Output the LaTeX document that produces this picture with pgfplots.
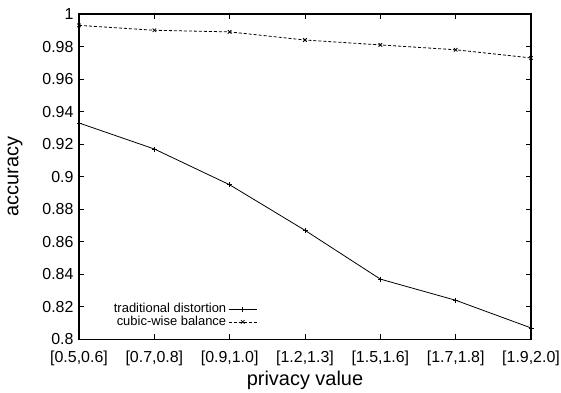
\documentclass[border=0pt]{standalone}
\usepackage{pgfplots}
\pgfplotsset{compat=1.18}
\usepackage{fontspec}
\setmainfont{Liberation Sans}
\begin{document}
\begin{tikzpicture}
\begin{axis}[
  scale only axis, width=452bp, height=325.3bp,
  xmin=0, xmax=6, ymin=0.8, ymax=1,
  xtick={0,1,2,3,4,5,6},
  xticklabels={{[0.5,0.6]},{[0.7,0.8]},{[0.9,1.0]},{[1.2,1.3]},{[1.5,1.6]},{[1.7,1.8]},{[1.9,2.0]}},
  ytick={0.8,0.82,0.84,0.86,0.88,0.9,0.92,0.94,0.96,0.98,1},
  yticklabels={0.8,0.82,0.84,0.86,0.88,0.9,0.92,0.94,0.96,0.98,1},
  tick align=inside, major tick length=5bp,
  axis line style={line width=1.2bp},
  tick style={line width=0.8bp, black},
  every tick label/.append style={font=\fontsize{16}{19}\selectfont},
  yticklabel style={xshift=-2bp},
  xticklabel style={yshift=-8bp},
  xlabel={privacy value}, ylabel={accuracy},
  label style={font=\fontsize{20}{24}\selectfont},
  xlabel style={at={(rel axis cs:0.5,0)}, anchor=center, yshift=-41bp},
  ylabel style={at={(rel axis cs:0,0.5)}, anchor=center, rotate=0, yshift=64bp},
  /pgf/number format/assume math mode=true,
  legend plot pos=right,
  legend cell align=right,
  legend style={at={(rel axis cs:0.395,0.03)}, anchor=south east, draw=none, fill=none,
    font=\fontsize{13}{14}\selectfont, row sep=-2bp, inner sep=0pt,
    nodes={inner sep=2bp}},
  legend image code/.code={\draw[mark repeat=2,mark phase=2,#1] plot coordinates {(0cm,0cm) (0.5cm,0cm) (1cm,0cm)};},
]
\addplot[black, line width=0.8bp, mark=+, mark size=2.5bp, mark options={solid}] coordinates {
(0,0.933) (1,0.917) (2,0.895) (3,0.867) (4,0.837) (5,0.824) (6,0.807)};
\addlegendentry{traditional distortion}
\addplot[black, line width=0.8bp, dash pattern=on 3bp off 2bp, mark=x, mark size=2.5bp, mark options={solid}] coordinates {
(0,0.993) (1,0.990) (2,0.989) (3,0.984) (4,0.981) (5,0.978) (6,0.973)};
\addlegendentry{cubic-wise balance}
\coordinate (bl) at (rel axis cs:0,0);
\coordinate (tr) at (rel axis cs:1,1);
\end{axis}
\pgfresetboundingbox
\path[use as bounding box] ([shift={(-79bp,-53bp)}]bl) rectangle ([shift={(30bp,14bp)}]tr);
\end{tikzpicture}
\end{document}
